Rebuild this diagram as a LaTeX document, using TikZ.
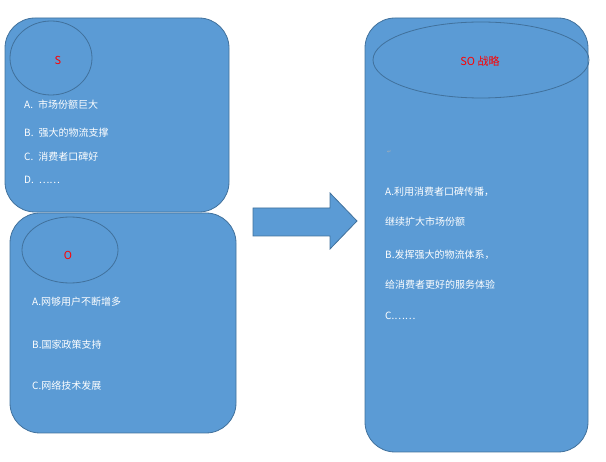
\documentclass[tikz,border=0pt]{standalone}
\usepackage{fontspec}
\newfontfamily\cjk{Noto Sans CJK SC}
\newfontfamily\dv{DejaVu Sans}
\definecolor{fillb}{HTML}{5B9BD5}
\definecolor{lineb}{HTML}{41719C}
\begin{document}
\begin{tikzpicture}[x=1pt,y=-1pt,
  box/.style={draw=lineb,fill=fillb,line width=0.8pt,rounded corners=30pt},
  oval/.style={draw=lineb,line width=0.8pt,ellipse},
  txt/.style={anchor=west,text=white,font=\cjk\fontsize{10}{12}\selectfont,inner sep=0pt},
  ttl/.style={text=red,font=\cjk\fontsize{11}{13}\selectfont,inner sep=0pt},
  mk/.style={text=gray!60,font=\dv\fontsize{5}{6}\selectfont,inner sep=0pt,anchor=west}]
\useasboundingbox (0,0) rectangle (606,462);
\draw[box] (5,18) rectangle (229,212);
\draw[lineb,line width=0.8pt] (51,58) ellipse [x radius=41,y radius=37];
\node[ttl] (s) at (58,60) {S};
\node[txt] (s1) at (24,105) {A.\enspace 市场份额巨大};
\node[txt] (s2) at (24,133) {B.\enspace 强大的物流支撑};
\node[txt] (s3) at (24,157) {C.\enspace 消费者口碑好};
\node[txt] (s4) at (24,180) {D.\enspace ……};
\draw[box] (10,213) rectangle (236,433);
\draw[lineb,line width=0.8pt] (70,250) ellipse [x radius=48,y radius=33];
\node[ttl] (o) at (68,255) {O};
\node[txt] (o1) at (32,302) {A.网够用户不断增多};
\node[txt] (o2) at (32,345) {B.国家政策支持};
\node[txt] (o3) at (32,386) {C.网络技术发展};
\draw[fillb,fill=fillb,line width=0.8pt,draw=lineb] (253,208) -- (330,208) -- (330,193) -- (357,221) -- (330,249) -- (330,236) -- (253,236) -- cycle;
\draw[box] (365,18) rectangle (588,452);
\draw[lineb,line width=0.8pt] (481,60) ellipse [x radius=108,y radius=38];
\node[ttl] (so) at (480,61) {SO 战略};
\node[mk] (m) at (387,152) {↵};
\node[txt] (a1) at (385,192) {A.利用消费者口碑传播，};
\node[txt] (a2) at (385,222) {继续扩大市场份额};
\node[txt] (b1) at (385,255) {B.发挥强大的物流体系，};
\node[txt] (b2) at (385,285) {给消费者更好的服务体验};
\node[txt] (c1) at (385,316) {C.……};
\end{tikzpicture}
\end{document}
